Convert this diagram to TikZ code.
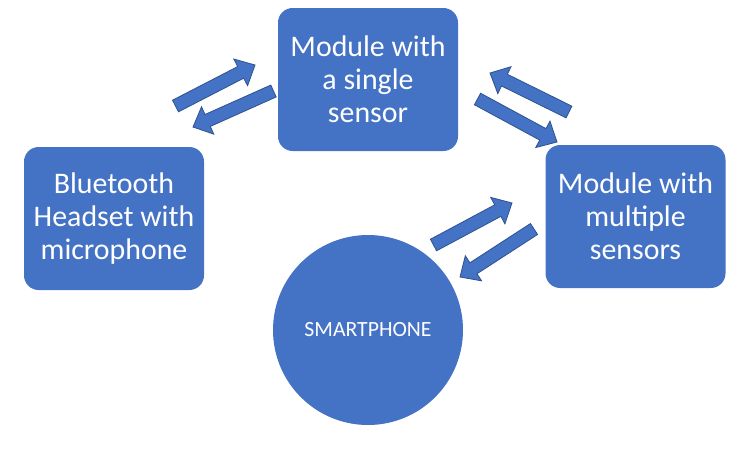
\documentclass[tikz,border=0pt]{standalone}
\usepackage{fontspec}
\setmainfont{Carlito}
\usetikzlibrary{calc}
\definecolor{boxblue}{HTML}{4472C4}
\definecolor{edgeblue}{HTML}{2F528F}
\tikzset{
  box/.style={fill=boxblue, draw=none, rounded corners=11pt, minimum width=135pt, minimum height=107.25pt, text=white, align=center, font=\fontsize{22.4}{24.6}\selectfont, inner sep=0pt},
  phone/.style={circle, fill=boxblue, draw=none, minimum size=142.5pt, inner sep=0pt, text=white, font=\fontsize{16.3}{18}\selectfont},
  blockarrowstyle/.style={fill=boxblue, draw=edgeblue, line width=0.6pt, line join=miter}
}
\newcommand\shafthalf{4.9pt}
\newcommand\headhalf{11.25pt}
\newcommand\headlen{12}
\newcommand\blockarrow[2]{%
  \path[blockarrowstyle] let \p1=(#1), \p2=(#2),
    \n1={atan2(\y2-\y1,\x2-\x1)},
    \n2={veclen(\x2-\x1,\y2-\y1)-\headlen} in
    ($(\p1)+(\n1+90:\shafthalf)$)
    -- ($(\p1)+(\n1:\n2)+(\n1+90:\shafthalf)$)
    -- ($(\p1)+(\n1:\n2)+(\n1+90:\headhalf)$)
    -- (\p2)
    -- ($(\p1)+(\n1:\n2)+(\n1-90:\headhalf)$)
    -- ($(\p1)+(\n1:\n2)+(\n1-90:\shafthalf)$)
    -- ($(\p1)+(\n1-90:\shafthalf)$)
    -- cycle;}
\begin{document}
\begin{tikzpicture}[x=0.75pt,y=-0.75pt]
  \useasboundingbox (0,0) rectangle (738,469);
  \node[box] (bt) at (114,218.5) {Bluetooth\\Headset with\\microphone};
  \node[box] (single) at (368,79.5) {Module with\\a single\\sensor};
  \node[box] (multi) at (635.5,216.5) {Module with\\multiple\\sensors};
  \node[phone] (phone) at (368,330) {SMARTPHONE};
  % arrow end points
  \coordinate (a1s) at (175.5,106);
  \coordinate (a1e) at (255,65);
  \coordinate (a2s) at (273.5,91);
  \coordinate (a2e) at (193,127);
  \coordinate (a3s) at (569,112);
  \coordinate (a3e) at (490,73);
  \coordinate (a4s) at (477.5,99);
  \coordinate (a4e) at (557,142);
  \coordinate (a5s) at (433.5,245);
  \coordinate (a5e) at (512,203);
  \coordinate (a6s) at (534,229);
  \coordinate (a6e) at (460,277);
  \blockarrow{a1s}{a1e}
  \blockarrow{a2s}{a2e}
  \blockarrow{a3s}{a3e}
  \blockarrow{a4s}{a4e}
  \blockarrow{a5s}{a5e}
  \blockarrow{a6s}{a6e}
\end{tikzpicture}
\end{document}
